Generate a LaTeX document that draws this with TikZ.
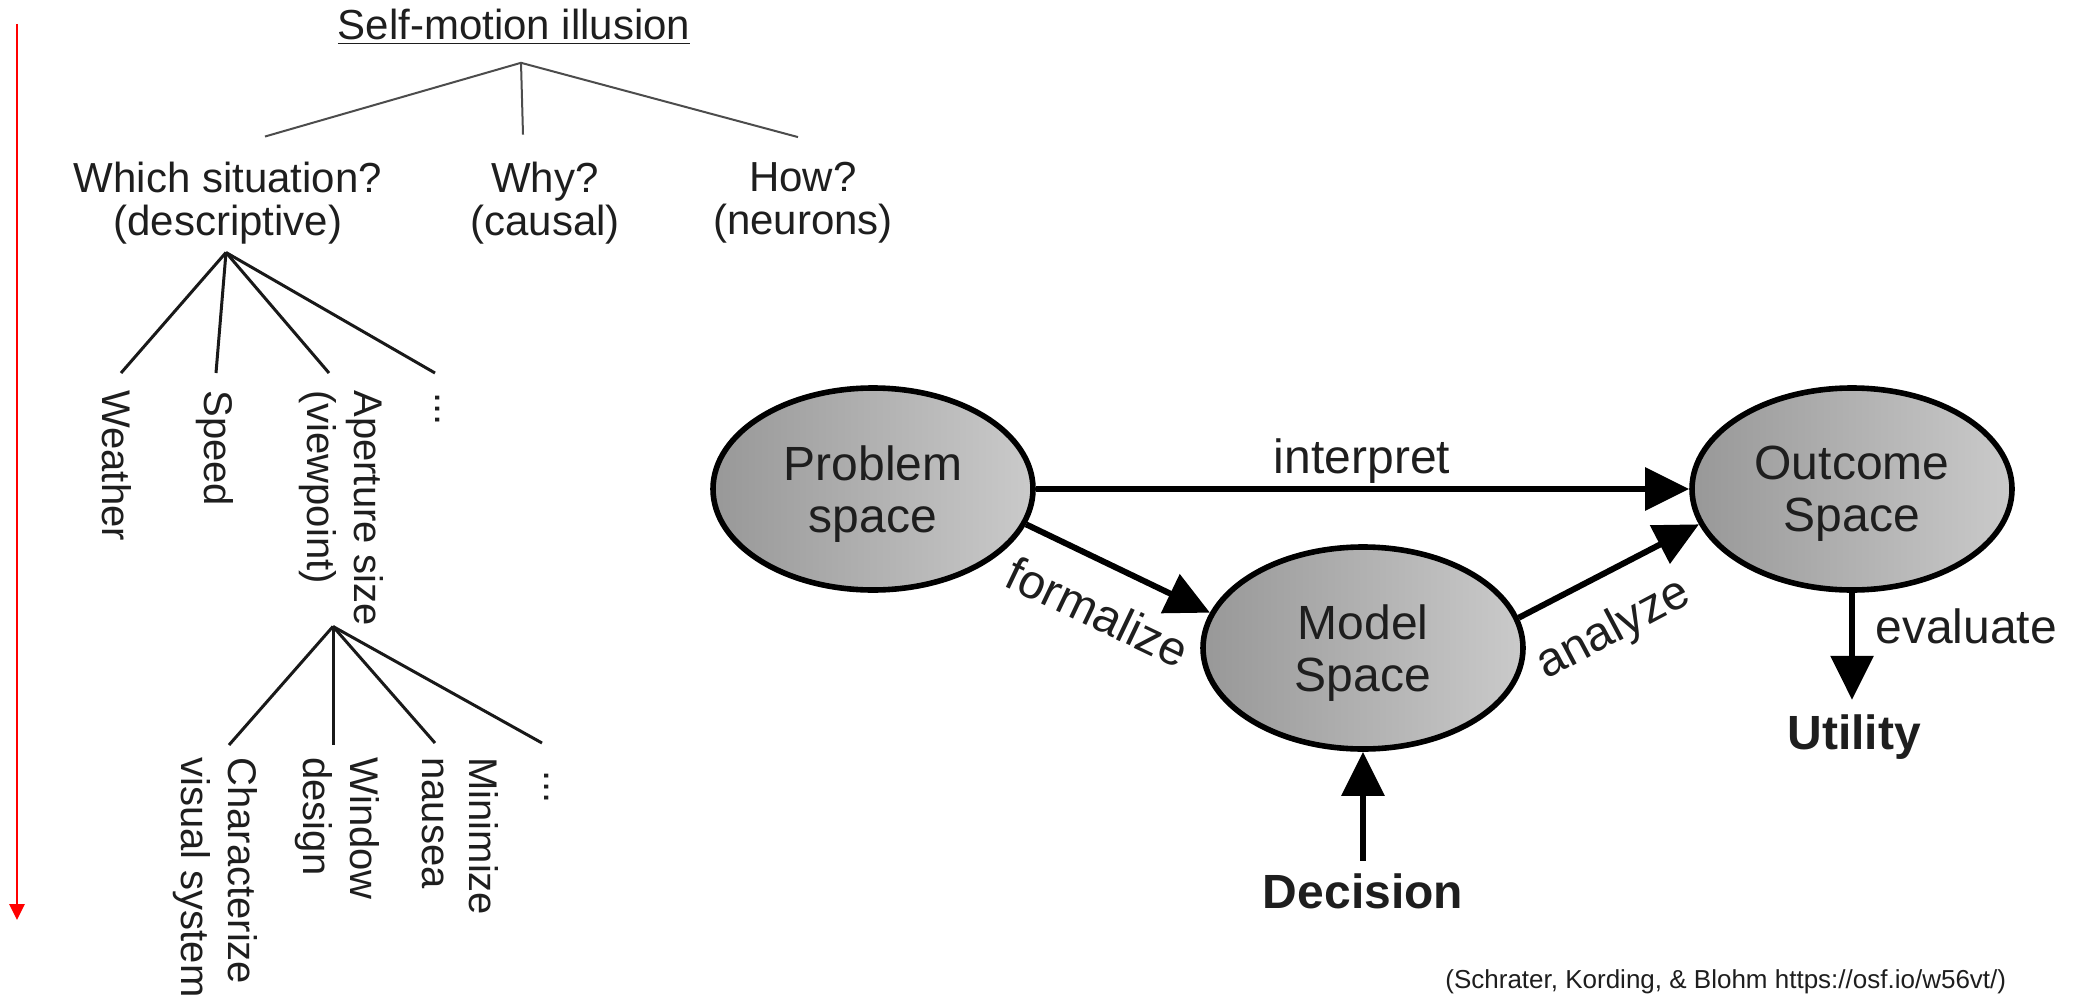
\documentclass[tikz,border=0pt]{standalone}
\usepackage{fontspec}
\setmainfont{Liberation Sans}
\usetikzlibrary{arrows.meta,calc,shapes.geometric}

\definecolor{shadeL}{RGB}{152,152,152}
\definecolor{shadeR}{RGB}{202,202,202}
\definecolor{inkdark}{RGB}{30,30,30}

\begin{document}
\begin{tikzpicture}[x=0.5pt,y=-0.5pt,
  treetext/.style={font=\fontsize{21}{21.5}\selectfont, inner sep=0pt, align=center, text=inkdark},
  leaf/.style={font=\fontsize{20}{23.5}\selectfont, inner sep=0pt, align=left,
               rotate=-90, anchor=west, text=inkdark},
  topbranch/.style={line width=1pt, black!70},
  branch/.style={line width=1.5pt, black!90},
  spacenode/.style={ellipse, draw=black, line width=2.8pt,
               minimum width=160pt, minimum height=101pt,
               left color=shadeL, right color=shadeR,
               font=\fontsize{24}{26}\selectfont, align=center,
               inner sep=0pt, text depth=0pt, text=inkdark},
  flow/.style={line width=3pt, black, -{Triangle[length=22pt,width=21pt]}},
  lbl/.style={font=\fontsize{24}{26}\selectfont, inner sep=0pt, text=inkdark},
  boldlbl/.style={font=\fontsize{24}{26}\selectfont\bfseries, inner sep=0pt, text=inkdark},
]
\useasboundingbox (0,0) rectangle (2081,995);

% ---------- red time arrow ----------
\coordinate (rtop) at (17,24);
\coordinate (rbot) at (17,920);
\draw[red, line width=1.3pt, -{Triangle[length=8pt,width=7.5pt]}] (rtop) -- (rbot);

% ---------- question tree ----------
\node[treetext, anchor=base] (title) at (514,40) {\underline{Self-motion illusion}};

\node[treetext] (which) at (228,203) {Which situation?\\(descriptive)};
\node[treetext] (why)   at (545,203) {Why?\\(causal)};
\node[treetext] (how)   at (803,203) {How?\\(neurons)};

\coordinate (a1) at ($(title.south)+(7,18)$);
\draw[topbranch] (a1) -- ($(which.north)+(37,-25)$);
\draw[topbranch] (a1) -- ($(why.north)+(-22,-27)$);
\draw[topbranch] (a1) -- ($(how.north)+(-5,-25)$);

\node[leaf] (weather) at (117,390) {Weather};
\node[leaf] (speed)   at (215,390) {Speed};
\node[leaf] (aper)    at (341,390) {Aperture size\\(viewpoint)};
\node[leaf] (more1)   at (438,392) {...};

\coordinate (a2) at ($(which.south)+(-2,8)$);
\draw[branch] (a2) -- ($(weather.west)+(4,-17)$);
\draw[branch] (a2) -- ($(speed.west)+(1,-17)$);
\draw[branch] (a2) -- ($(aper.west)+(-12,-17)$);
\draw[branch] (a2) -- ($(more1.west)+(-3,-19)$);

\node[leaf] (charac) at (215,757) {Characterize\\visual system};
\node[leaf] (window) at (337,757) {Window\\design};
\node[leaf] (nausea) at (460,757) {Minimize\\nausea};
\node[leaf] (more2)  at (547,770) {...};

\coordinate (a3) at ($(aper.east)+(-8,0)$);
\draw[branch] (a3) -- ($(charac.west)+(14,-12)$);
\draw[branch] (a3) -- ($(window.west)+(-4,-12)$);
\draw[branch] (a3) -- ($(nausea.west)+(-25,-14)$);
\draw[branch] (a3) -- ($(more2.west)+(-5,-27)$);

% ---------- modelling cycle ----------
\node[spacenode] (prob)  at (873,489)  {Problem\\space};
\node[spacenode] (model) at (1363,648) {Model\\Space};
\node[spacenode] (out)   at (1852,489) {Outcome\\Space};

\draw[flow] (prob) -- (out);
\node[lbl, anchor=base] (linterp) at (1362,473) {interpret};

\draw[flow] (prob.-13) -- (model.167);
\node[lbl, rotate=-25.5] (lform) at (1098,612) {formalize};

\draw[flow] (model.11) -- (out.193);
\node[lbl, rotate=28] (lanal) at (1614,630) {analyze};

\node[boldlbl, anchor=base] (util) at (1854,749) {Utility};
\draw[flow, shorten >=7pt] (out.south) -- (out.south |- util.north);
\node[lbl, anchor=base west] (leval) at (1875,643) {evaluate};

\node[boldlbl, anchor=base] (dec) at (1363,908) {Decision};
\draw[flow, shorten <=6pt] (dec.north) -- (model.south);

\node[font=\fontsize{13}{15}\selectfont, inner sep=0pt, anchor=base west, text=inkdark]
  (cite) at (1445,988) {(Schrater, Kording, \& Blohm https://osf.io/w56vt/)};

\end{tikzpicture}
\end{document}
